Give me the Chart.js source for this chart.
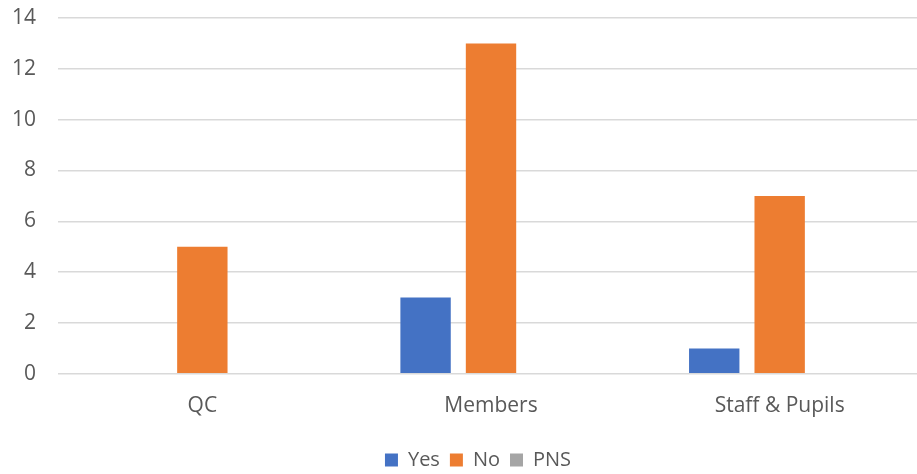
<!DOCTYPE html>
<html>
<head>
<meta charset="utf-8">
<script src="https://cdn.jsdelivr.net/npm/chart.js@4"></script>
<style>
  html, body { margin: 0; padding: 0; background: #fff; overflow: hidden; }
  /* the original plot runs a few pixels past the right edge */
  #wrap { width: 924px; height: 474px; }
</style>
</head>
<body>
<div id="wrap"><canvas id="chart"></canvas></div>
<script>
const categories = ["QC", "Members", "Staff & Pupils"];
const yesValues = [0, 3, 1];
const noValues = [5, 13, 7];
const pnsValues = [0, 0, 0];
const yTicks = [0, 2, 4, 6, 8, 10, 12, 14];

const textColor = "#595959";
const font = { family: "'Open Sans', 'Noto Sans', sans-serif", size: 21 };

let ctx = document.getElementById("chart").getContext("2d");

let chart = new Chart(ctx, {
    type: "bar",
    data: {
        labels: categories,
        datasets: [
            { label: "Yes", data: yesValues, backgroundColor: "#4472C4" },
            { label: "No", data: noValues, backgroundColor: "#ED7D31" },
            { label: "PNS", data: pnsValues, backgroundColor: "#A5A5A5" }
        ]
    },
    options: {
        responsive: true,
        maintainAspectRatio: false,
        animation: false,
        categoryPercentage: 0.68,
        barPercentage: 0.77,
        // negative right padding only nudges the legend to the right
        layout: { padding: { top: 0, right: -42, left: -10, bottom: -6 } },
        plugins: {
            tooltip: { enabled: false },
            legend: {
                position: "bottom",
                labels: {
                    color: textColor,
                    font: { family: font.family, size: 20 },
                    boxWidth: 13,
                    boxHeight: 13,
                    padding: 10
                }
            }
        },
        scales: {
            x: {
                grid: { display: false },
                border: { display: false },
                ticks: { color: textColor, font: font, padding: 12 },
                afterFit: function (axis) {
                    axis.height += 9;
                }
            },
            y: {
                min: 0,
                max: 14,
                afterBuildTicks: function (axis) {
                    axis.ticks = yTicks.map(v => ({ value: v }));
                },
                // tick padding would also push the plot top down, so reset it
                afterFit: function (axis) {
                    axis.paddingTop = 18;
                    axis.paddingBottom = 13;
                },
                grid: { color: "#D9D9D9", lineWidth: 1.5, drawTicks: false },
                border: { display: false },
                ticks: { color: textColor, font: font, padding: 22 }
            }
        }
    }
});
</script>
</body>
</html>
